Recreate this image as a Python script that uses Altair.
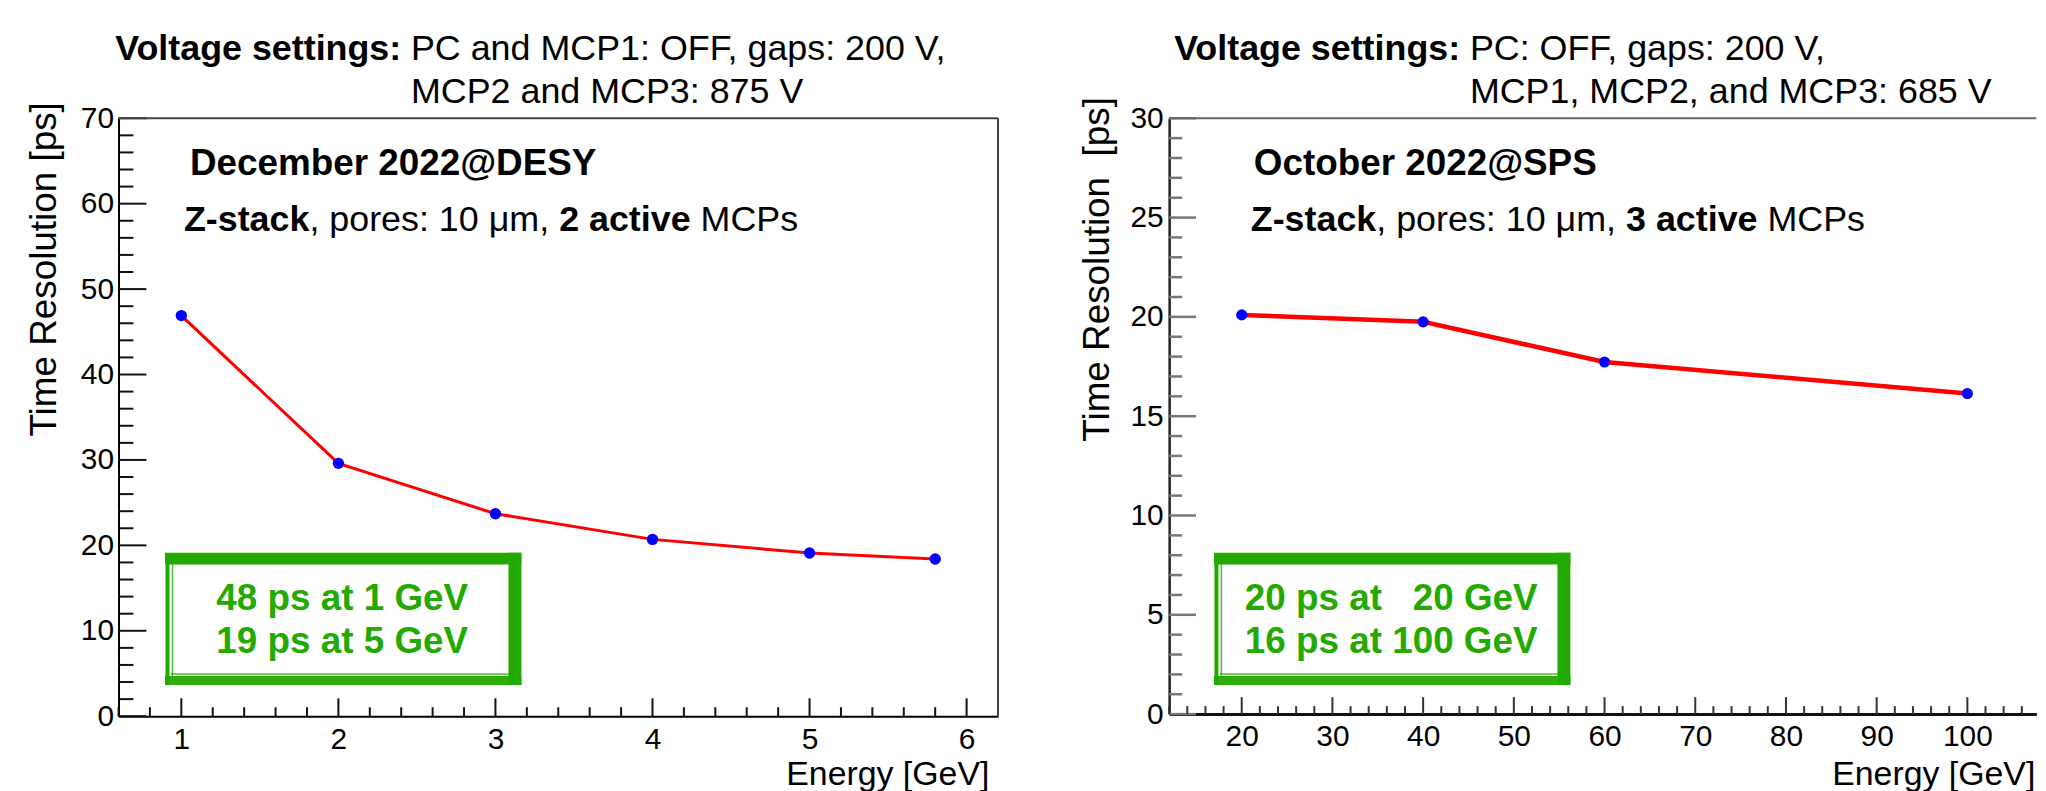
import altair as alt
import pandas as pd

# ---------------- data ----------------
desy_energy = [1, 2, 3, 4, 5, 5.8]
desy_resolution = [46.9, 29.6, 23.7, 20.7, 19.1, 18.4]

sps_energy = [20, 40, 60, 100]
sps_resolution = [20.1, 19.75, 17.73, 16.14]

# axis tick labels
left_x_labels = [1, 2, 3, 4, 5, 6]
left_y_labels = [0, 10, 20, 30, 40, 50, 60, 70]
right_x_labels = [20, 30, 40, 50, 60, 70, 80, 90, 100]
right_y_labels = [0, 5, 10, 15, 20, 25, 30]

# minor ticks (ROOT style, drawn inside the frame)
left_x_minor = [round(0.6 + 0.2 * i, 1) for i in range(29) if (i - 2) % 5 != 0]
left_y_minor = [v for v in range(2, 70, 2) if v % 10]
right_x_minor = [v for v in range(12, 108, 2) if v % 10]
right_y_minor = [v for v in range(1, 30) if v % 5]

# ---------------- layout ----------------
FONT = "Liberation Sans"
GREEN = "#22aa00"
L_W, L_H = 883.4, 600.6
R_W, R_H = 871.0, 598.5
ONE = pd.DataFrame({"k": [0]})

AR = {' ': 278, ',': 278, '-': 333, '.': 278, ':': 278, '@': 1015, '[': 278, ']': 278, 'μ': 576,
      'A': 667, 'B': 667, 'C': 722, 'D': 722, 'E': 667, 'F': 611, 'G': 778, 'H': 722, 'I': 278,
      'J': 500, 'K': 667, 'L': 556, 'M': 833, 'N': 722, 'O': 778, 'P': 667, 'Q': 778, 'R': 722,
      'S': 667, 'T': 611, 'U': 722, 'V': 667, 'W': 944, 'X': 667, 'Y': 667, 'Z': 611,
      'a': 556, 'b': 556, 'c': 500, 'd': 556, 'e': 556, 'f': 278, 'g': 556, 'h': 556, 'i': 222,
      'j': 222, 'k': 500, 'l': 222, 'm': 833, 'n': 556, 'o': 556, 'p': 556, 'q': 556, 'r': 333,
      's': 500, 't': 278, 'u': 556, 'v': 500, 'w': 722, 'x': 500, 'y': 500, 'z': 500}
AB = {' ': 278, ',': 278, '-': 333, '.': 278, ':': 333, '@': 975, '[': 333, ']': 333, 'μ': 611,
      'A': 722, 'B': 722, 'C': 722, 'D': 722, 'E': 667, 'F': 611, 'G': 778, 'H': 722, 'I': 278,
      'J': 556, 'K': 722, 'L': 611, 'M': 833, 'N': 722, 'O': 778, 'P': 667, 'Q': 778, 'R': 722,
      'S': 667, 'T': 611, 'U': 722, 'V': 667, 'W': 944, 'X': 667, 'Y': 667, 'Z': 611,
      'a': 556, 'b': 611, 'c': 556, 'd': 611, 'e': 556, 'f': 333, 'g': 611, 'h': 611, 'i': 278,
      'j': 278, 'k': 556, 'l': 278, 'm': 889, 'n': 611, 'o': 611, 'p': 611, 'q': 611, 'r': 389,
      's': 556, 't': 333, 'u': 611, 'v': 556, 'w': 778, 'x': 556, 'y': 556, 'z': 500}
for d in "0123456789":
    AR[d] = 556
    AB[d] = 556


def tw(s, bold, size):
    tab = AB if bold else AR
    return sum(tab.get(c, 556) for c in s) * size / 1000.0


def txt(text, x, y, size, bold=False, color="black", align="left", baseline="middle", angle=None):
    kw = dict(font=FONT, fontSize=size, fontWeight="bold" if bold else "normal",
              color=color, align=align, baseline=baseline)
    if angle is not None:
        kw["angle"] = angle
    return alt.Chart(ONE).mark_text(**kw).encode(
        x=alt.value(x), y=alt.value(y), text=alt.value(text))


def seg_line(parts, x0, y, size):
    """parts: (text, bold, space_before, extra_shift)"""
    layers, starts = [], []
    x = x0
    for t, bold, sp, adj in parts:
        if sp:
            x += AR[' '] * size / 1000.0
        x += adj
        starts.append(x)
        layers.append(txt(t, x, y, size, bold))
        x += tw(t, bold, size)
    return layers, starts


def hrule(x1, x2, y, color, w, op=1.0):
    return alt.Chart(ONE).mark_rule(color=color, strokeWidth=w, opacity=op).encode(
        x=alt.value(x1), x2=alt.value(x2), y=alt.value(y))


def vrule(x, y1, y2, color, w, op=1.0):
    return alt.Chart(ONE).mark_rule(color=color, strokeWidth=w, opacity=op).encode(
        x=alt.value(x), y=alt.value(y1), y2=alt.value(y2))


def axis(values, padding, dcolor, dwidth):
    return alt.Axis(values=values, title=None, ticks=False, tickSize=0, grid=False,
                    labelFont=FONT, labelFontSize=30, labelColor="black", labelPadding=padding,
                    labelFlush=False, labelOverlap=False, labelBound=False, format="d",
                    domainColor=dcolor, domainWidth=dwidth)


def yticks(vals, scale, ax, length, color, w):
    return alt.Chart(pd.DataFrame({"v": vals})).mark_rule(color=color, strokeWidth=w).encode(
        y=alt.Y("v:Q", scale=scale, axis=ax), x=alt.value(0), x2=alt.value(length))


def xticks(vals, scale, ax, length, H, color, w):
    return alt.Chart(pd.DataFrame({"v": vals})).mark_rule(color=color, strokeWidth=w).encode(
        x=alt.X("v:Q", scale=scale, axis=ax), y=alt.value(H - length), y2=alt.value(H))


def green_box(x1, x2, y1, y2):
    # x1..x2 / y1..y2: outer extent of the hand-drawn frame
    return [
        hrule(x1, x2, y1 + 6, GREEN, 12),          # heavy top band
        vrule(x2 - 6.5, y1, y2, GREEN, 13),        # heavy right band
        hrule(x1, x2, y2 - 4.5, GREEN, 9, 0.95),   # bottom band
        vrule(x1 + 2.5, y1 + 6, y2, GREEN, 4),     # thin outer left line
        vrule(x1 + 7.5, y1 + 10, y2 - 8, GREEN, 1.5, 0.8),   # inner left line
        hrule(x1 + 6, x2 - 12, y2 - 11, GREEN, 1.5, 0.8),    # inner bottom line
    ]


# ================= left panel =================
lx = alt.Scale(domain=[0.6, 6.2], nice=False, zero=False)
ly = alt.Scale(domain=[0, 70], nice=False, zero=False)
lxa = axis(left_x_labels, 8, "black", 2)
lya = axis(left_y_labels, 5, "black", 2)
desy_df = pd.DataFrame({"E": desy_energy, "R": desy_resolution})
lbase = alt.Chart(desy_df).encode(
    x=alt.X("E:Q", scale=lx, axis=lxa),
    y=alt.Y("R:Q", scale=ly, axis=lya),
)
l_line = lbase.mark_line(color="#ff0000", strokeWidth=3)
l_pts = lbase.mark_circle(color="#0000ff", size=130, opacity=1)

pin = alt.Chart(ONE).mark_rect(color="white").encode(
    x=alt.value(-110.3), x2=alt.value(-104), y=alt.value(-108.7), y2=alt.value(-103))

l_layers = [pin]
l_layers += green_box(46.7, 404.7, 436.3, 569.3)
l_layers += [l_line, l_pts,
             yticks(left_y_labels, ly, lya, 28, "#111111", 2),
             yticks(left_y_minor, ly, lya, 15, "#111111", 2),
             xticks(left_x_labels, lx, lxa, 18, L_H, "#111111", 2),
             xticks(left_x_minor, lx, lxa, 9, L_H, "#111111", 2),
             hrule(0, L_W, 0, "#444444", 2), vrule(L_W, 0, L_H, "#444444", 2)]
l_layers += [txt("48 ps at 1 GeV", 224.7, 482.9, 37, True, GREEN, "center"),
             txt("19 ps at 5 GeV", 224.7, 526.3, 37, True, GREEN, "center")]

t1, st1 = seg_line([("Voltage settings:", True, False, 0),
                    ("PC and MCP1: OFF, gaps: 200 V,", False, True, -3)], -3.3, -69.6, 36)
t2, _ = seg_line([("MCP2 and MCP3: 875 V", False, False, 0)], st1[1], -26.6, 36)
a1 = [txt("December 2022@DESY", 71.7, 46.2, 37, True)]
a2, _ = seg_line([("Z-stack", True, False, 0), (", pores: 10 μm,", False, False, 0),
                  ("2 active", True, True, 0), ("MCPs", False, True, 0)], 65.7, 102.1, 36)
l_layers += t1 + t2 + a1 + a2
l_layers += [txt("Time Resolution [ps]", -73.7, 151.8, 37, angle=270, align="center"),
             txt("Energy [GeV]", 874.7, 669.3, 34, align="right", baseline="alphabetic")]

left = alt.layer(*l_layers).properties(width=L_W, height=L_H)

# ================= right panel =================
rx = alt.Scale(domain=[12, 107.6], nice=False, zero=False)
ry = alt.Scale(domain=[0, 30], nice=False, zero=False)
rxa = axis(right_x_labels, 8, "#111111", 3)
rya = axis(right_y_labels, 6, "#222222", 2.5)
sps_df = pd.DataFrame({"E": sps_energy, "R": sps_resolution})
rbase = alt.Chart(sps_df).encode(
    x=alt.X("E:Q", scale=rx, axis=rxa),
    y=alt.Y("R:Q", scale=ry, axis=rya),
)
r_line = rbase.mark_line(color="#ff0000", strokeWidth=4.5)
r_pts = rbase.mark_circle(color="#0000ff", size=125, opacity=1)

r_layers = green_box(45, 403, 436.3, 569.3)
r_layers += [r_line, r_pts,
             yticks(right_y_labels, ry, rya, 27, "#777777", 2.5),
             yticks(right_y_minor, ry, rya, 13, "#777777", 2.5),
             xticks(right_x_labels, rx, rxa, 17, R_H, "#333333", 2),
             xticks(right_x_minor, rx, rxa, 8, R_H, "#333333", 2),
             hrule(0, R_W, 0, "#666666", 2)]
w2 = tw("16 ps at 100 GeV", True, 37)
bl, br = 223 - w2 / 2, 223 + w2 / 2
r_layers += [txt("20 ps at", bl, 482.9, 37, True, GREEN, "left"),
             txt("20 GeV", br, 482.9, 37, True, GREEN, "right"),
             txt("16 ps at 100 GeV", 223, 526.3, 37, True, GREEN, "center")]

rt1, rst1 = seg_line([("Voltage settings:", True, False, 0),
                      ("PC: OFF, gaps: 200 V,", False, True, -3)], 5, -69.6, 36)
rt2, _ = seg_line([("MCP1, MCP2, and MCP3: 685 V", False, False, 0)], rst1[1], -26.6, 36)
ra1 = [txt("October 2022@SPS", 85, 46.2, 37, True)]
ra2, _ = seg_line([("Z-stack", True, False, 0), (", pores: 10 μm,", False, False, 0),
                   ("3 active", True, True, 0), ("MCPs", False, True, 0)], 82, 102.1, 36)
r_layers += rt1 + rt2 + ra1 + ra2
r_layers += [txt("Time Resolution\u00a0 [ps]", -71.9, 151.8, 37, angle=270, align="center"),
             txt("Energy [GeV]", R_W - 1, 669.3, 34, align="right", baseline="alphabetic")]

right = alt.layer(*r_layers).properties(width=R_W, height=R_H)

chart = alt.hconcat(left, right, spacing=171.3, bounds="flush").properties(
    padding=0
).configure_view(stroke=None)

chart.save("out.html", embed_options={"renderer": "svg", "actions": False})
